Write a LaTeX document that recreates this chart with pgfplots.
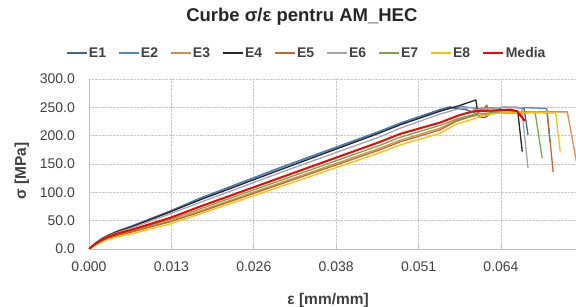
\documentclass[border=0pt]{standalone}
\usepackage{pgfplots}
\pgfplotsset{compat=1.18}
\usepackage{fontspec}
\setmainfont{Liberation Sans}
\definecolor{cE1}{HTML}{41678F}
\definecolor{cE2}{HTML}{4F86C6}
\definecolor{cE3}{HTML}{E08A4C}
\definecolor{cE4}{HTML}{262626}
\definecolor{cE5}{HTML}{C06A2E}
\definecolor{cE6}{HTML}{A6A6A6}
\definecolor{cE7}{HTML}{70AD47}
\definecolor{cE8}{HTML}{FFC000}
\definecolor{cMed}{HTML}{FF0000}
\definecolor{axgray}{HTML}{BFBFBF}
\definecolor{grgray}{HTML}{C8C8C8}
\definecolor{txt}{HTML}{404040}
\begin{document}
\begin{tikzpicture}
\path[use as bounding box] (-89pt,-58pt) rectangle (487pt,249pt);
\begin{axis}[
  at={(0,0)}, anchor=south west,
  scale only axis, width=487pt, height=170pt,
  xmin=0, xmax=0.07565, ymin=0, ymax=300,
  scaled x ticks=false, scaled y ticks=false,
  axis lines=left, axis line style={-, draw=axgray, line width=0.9pt},
  grid=major, grid style={densely dotted, draw=grgray, line width=0.8pt},
  xtick={0,0.0128,0.0256,0.0384,0.0512,0.064},
  xticklabels={0.000,0.013,0.026,0.038,0.051,0.064},
  ytick={0,50,100,150,200,250,300},
  yticklabel={\pgfmathprintnumber[fixed,fixed zerofill,precision=1]{\tick}},
  /pgf/number format/assume math mode=true,
  tick align=inside,
  x tick style={draw=axgray, line width=0.8pt},
  y tick style={draw=none},
  major tick length=4pt,
  ticklabel style={font=\fontsize{14}{16}\selectfont, text=txt},
  yticklabel style={inner sep=0pt, xshift=-14pt},
  xticklabel style={inner sep=0pt, yshift=-12.5pt},
  xlabel={ε [mm/mm]},
  ylabel={σ [MPa]},
  label style={font=\fontsize{15.5}{18}\selectfont\bfseries, text=txt},
  xlabel style={at={(axis description cs:0.491,-0.30)}, anchor=center},
  ylabel style={at={(axis description cs:-0.1376,0.459)}, anchor=center},
  title={Curbe σ/ε pentru AM\_HEC},
  title style={at={(axis description cs:0.437,1.329)}, anchor=center, font=\fontsize{18.5}{22}\selectfont\bfseries, text=black!85},
  legend columns=9,
  legend style={at={(axis description cs:-0.0535,1.153)}, anchor=west, draw=none, fill=none,
    font=\fontsize{14}{16}\selectfont\bfseries, text=txt,
    nodes={inner xsep=1.5pt, inner ysep=0pt},
    /tikz/every even column/.append style={column sep=10.6pt}},
  legend image code/.code={\draw[#1] (0pt,0pt) -- (20pt,0pt);},
  every axis plot/.append style={line width=1.3pt, line join=round},
]
% E1
\addplot[cE1] coordinates {(0,0) (0.001,10.5) (0.002,18.5) (0.003,24.5) (0.0045,32) (0.0065,40) (0.0126,67) (0.0172,89.5) (0.03,145) (0.0452,208) (0.0483,222) (0.0545,246) (0.0561,251) (0.0568,248) (0.0585,246) (0.0600,240) (0.0607,233) (0.0615,232) (0.0625,240) (0.0642,250) (0.0665,250) (0.0676,247) (0.0682,201)};
\addlegendentry{E1}
% E2
\addplot[cE2] coordinates {(0,0) (0.001,10) (0.002,18) (0.003,24) (0.0045,31) (0.0065,39) (0.0126,66) (0.0172,88.5) (0.03,144) (0.0452,207) (0.0483,221) (0.0545,244) (0.0561,249) (0.058,251) (0.0605,248) (0.0642,250) (0.069,249) (0.0711,248) (0.0716,189)};
\addlegendentry{E2}
% E3
\addplot[cE3] coordinates {(0,0) (0.001,8) (0.002,14.5) (0.003,19.5) (0.0045,25) (0.0065,30.5) (0.0126,49.5) (0.0172,67) (0.03,118) (0.0452,178) (0.0483,192) (0.0545,213) (0.057,227) (0.06,235) (0.0625,239) (0.066,241) (0.07,242) (0.0743,242) (0.0757,155)};
\addlegendentry{E3}
% E4
\addplot[cE4] coordinates {(0,0) (0.001,10) (0.002,18) (0.003,24) (0.0045,31) (0.0065,38.5) (0.0126,65.5) (0.0172,86.5) (0.03,141) (0.0452,205) (0.0483,219) (0.0545,243) (0.0575,253) (0.0601,263) (0.0603,247) (0.062,244) (0.065,245) (0.0666,243) (0.0673,172)};
\addlegendentry{E4}
% E5
\addplot[cE5] coordinates {(0,0) (0.001,8) (0.002,14) (0.003,19) (0.0045,24) (0.0065,29.5) (0.0126,48) (0.0172,65) (0.03,115.5) (0.0452,175) (0.0483,189) (0.0545,210) (0.057,225) (0.06,237) (0.0615,250) (0.0618,254) (0.062,243) (0.065,240) (0.0703,241) (0.0712,240) (0.0721,136)};
\addlegendentry{E5}
% E6
\addplot[cE6] coordinates {(0,0) (0.001,9.5) (0.002,17) (0.003,23) (0.0045,29.5) (0.0065,36.5) (0.0126,62) (0.0172,82) (0.03,136) (0.0452,198) (0.0483,213) (0.0545,238) (0.057,246) (0.0595,250) (0.0598,246) (0.062,248) (0.065,250) (0.0672,249) (0.0682,143)};
\addlegendentry{E6}
% E7
\addplot[cE7] coordinates {(0,0) (0.001,8.5) (0.002,15) (0.003,20.5) (0.0045,26) (0.0065,32) (0.0126,52) (0.0172,70.5) (0.03,122) (0.0452,183) (0.0483,197) (0.0545,218) (0.057,229) (0.06,238) (0.063,241) (0.068,242) (0.0693,241) (0.0704,160)};
\addlegendentry{E7}
% E8
\addplot[cE8] coordinates {(0,0) (0.001,7) (0.002,12.5) (0.003,17) (0.0045,21.5) (0.0065,26.5) (0.0126,44) (0.0172,61.8) (0.03,111) (0.0452,170) (0.0483,183.5) (0.0545,204) (0.057,220) (0.0607,233) (0.0625,238) (0.064,240) (0.068,241) (0.0725,240) (0.0732,172)};
\addlegendentry{E8}
% Media
\addplot[cMed, line width=2pt] coordinates {(0,0) (0.001,9) (0.002,16) (0.003,21.5) (0.0045,27.5) (0.0065,33.5) (0.0126,55) (0.0172,74.7) (0.03,127) (0.0452,189) (0.0483,203) (0.0545,223) (0.0575,236) (0.0597,243) (0.062,244) (0.0655,246) (0.0665,243) (0.0677,226)};
\addlegendentry{Media}
\end{axis}
\end{tikzpicture}
\end{document}
